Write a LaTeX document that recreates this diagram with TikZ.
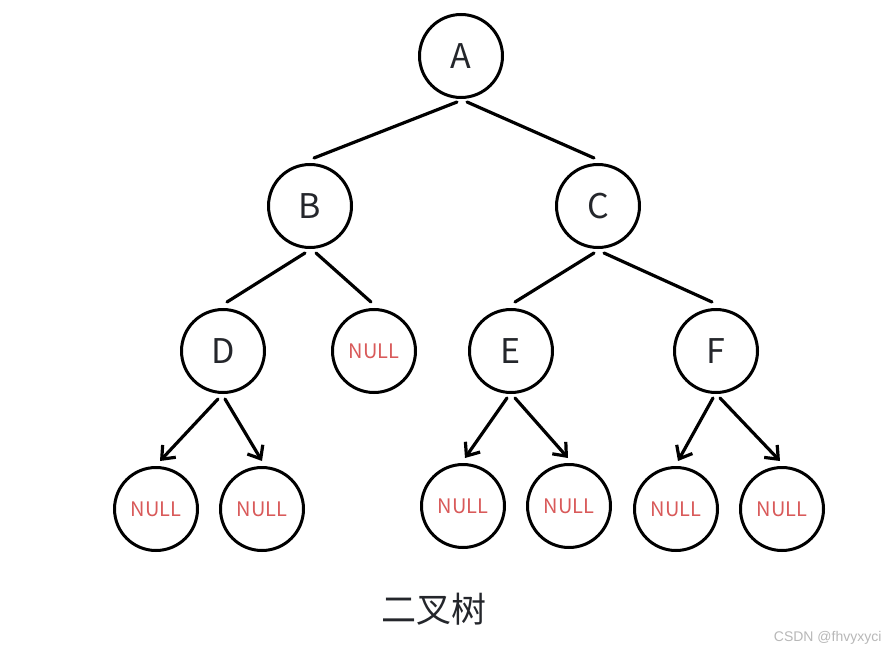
\documentclass[tikz,border=0pt]{standalone}
\usepackage{fontspec}
\setmainfont{Noto Sans}
\newfontfamily\cjk{Noto Sans CJK SC}
\newfontfamily\wmfont{Liberation Sans}
\usetikzlibrary{arrows.meta}
\definecolor{nullred}{HTML}{D95A5A}
\definecolor{txt}{HTML}{24262B}
\begin{document}
\begin{tikzpicture}[x=1pt,y=-1pt,
  tnode/.style={circle,draw=black,line width=3pt,minimum size=83pt,inner sep=0pt,
    text=txt,font=\cjk\fontsize{34}{34}\selectfont},
  nullnode/.style={tnode,text=nullred,font=\cjk\fontsize{20}{20}\selectfont},
  edge/.style={line width=3.2pt,line cap=round},
  arr/.style={edge,-{Straight Barb[length=11pt,width=18pt,line width=3.2pt]}}]
\useasboundingbox (0,0) rectangle (888,655);
\fill[white] (0,0) rectangle (888,655);
\node[tnode] (A) at (461,56) {A};
\node[tnode] (B) at (310,206) {B};
\node[tnode] (C) at (598,206) {C};
\node[tnode] (D) at (223,351) {D};
\node[nullnode] (N1) at (374,351) {NULL};
\node[tnode] (E) at (511,351) {E};
\node[tnode] (F) at (716,351) {F};
\node[nullnode] (N2) at (156,509) {NULL};
\node[nullnode] (N3) at (262,509) {NULL};
\node[nullnode] (N4) at (463,506) {NULL};
\node[nullnode] (N5) at (569,506) {NULL};
\node[nullnode] (N6) at (676,509) {NULL};
\node[nullnode] (N7) at (782,509) {NULL};
\draw[edge] ([xshift=-4pt,yshift=-3pt]A.south) -- ([xshift=4pt,yshift=5pt]B.north);
\draw[edge] ([xshift=6pt,yshift=-3pt]A.south) -- ([xshift=-4pt,yshift=5pt]C.north);
\draw[edge] ([xshift=-5pt,yshift=-4pt]B.south) -- ([xshift=4pt,yshift=6pt]D.north);
\draw[edge] ([xshift=6pt,yshift=-4pt]B.south) -- ([xshift=-3pt,yshift=6pt]N1.north);
\draw[edge] ([xshift=-4pt,yshift=-4pt]C.south) -- ([xshift=4pt,yshift=6pt]E.north);
\draw[edge] ([xshift=6pt,yshift=-4pt]C.south) -- ([xshift=-4pt,yshift=6pt]F.north);
\draw[arr] ([xshift=-5pt,yshift=-5pt]D.south) -- ([xshift=4pt,yshift=5pt]N2.north);
\draw[arr] ([xshift=2pt,yshift=-5pt]D.south) -- ([xshift=0pt,yshift=5pt]N3.north);
\draw[arr] ([xshift=-4pt,yshift=-4pt]E.south) -- ([xshift=2pt,yshift=5pt]N4.north);
\draw[arr] ([xshift=4pt,yshift=-4pt]E.south) -- ([xshift=-1pt,yshift=5pt]N5.north);
\draw[arr] ([xshift=-3pt,yshift=-4pt]F.south) -- ([xshift=2pt,yshift=5pt]N6.north);
\draw[arr] ([xshift=4pt,yshift=-4pt]F.south) -- ([xshift=-2pt,yshift=5pt]N7.north);
\node[text=txt,font=\cjk\fontsize{35}{35}\selectfont] (cap) at (434,609) {二叉树};
\node[text=black!28,font=\wmfont\fontsize{14}{14}\selectfont,anchor=east] (wm) at (885,638) {CSDN @fhvyxyci};
\end{tikzpicture}
\end{document}
